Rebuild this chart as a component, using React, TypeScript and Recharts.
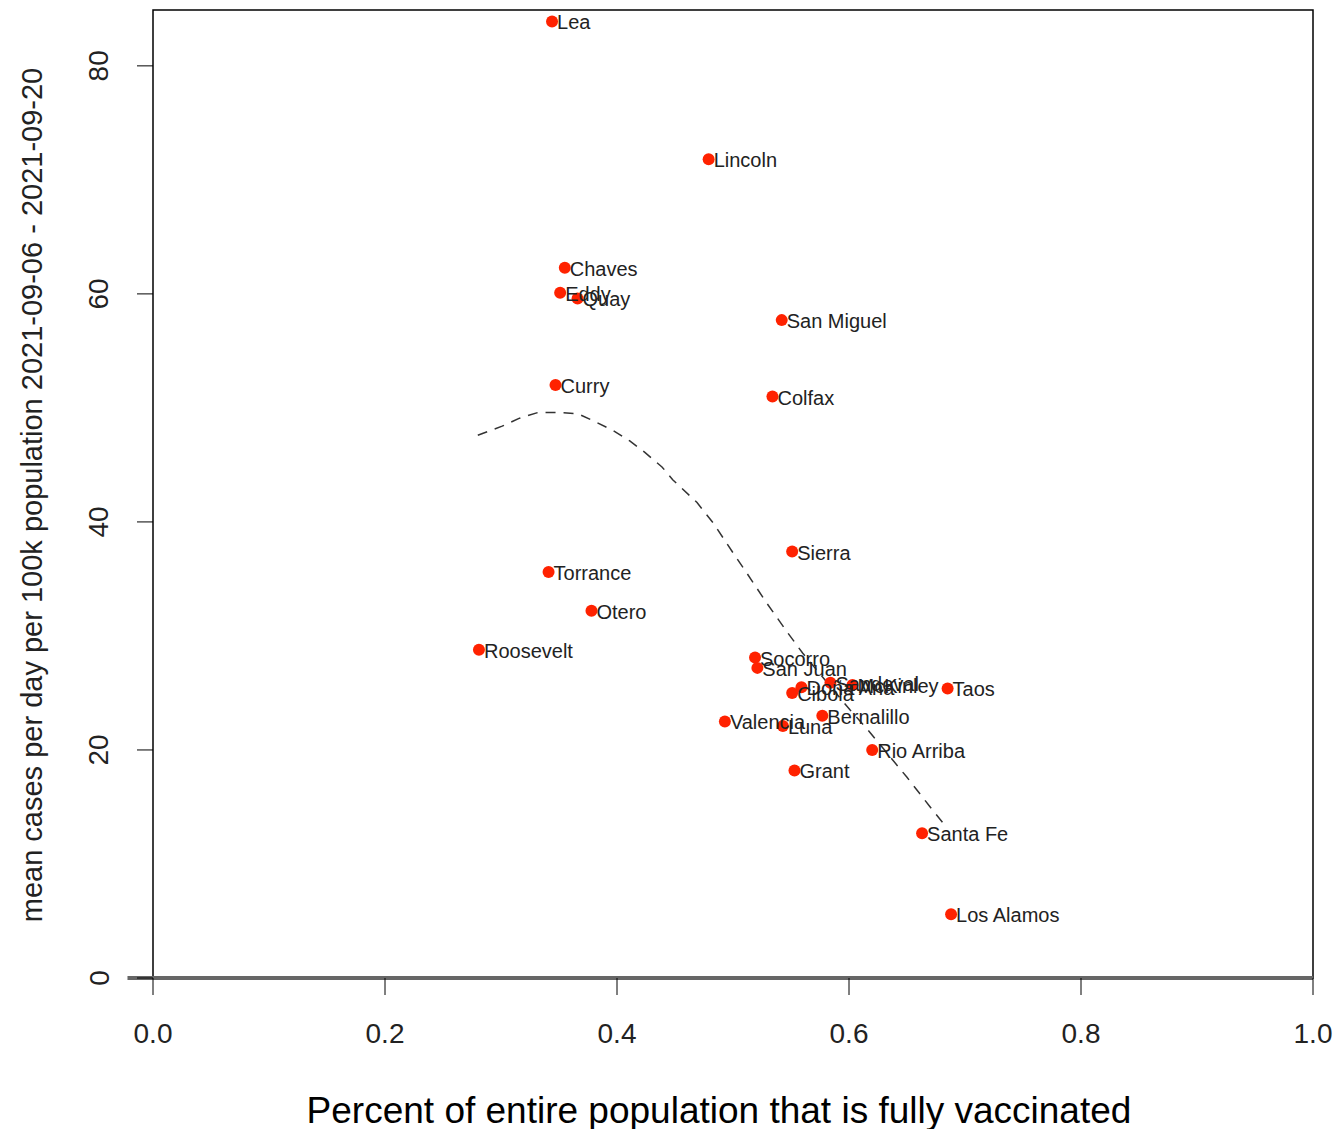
import React from "react";
import {
  Label,
  ReferenceArea,
  ReferenceLine,
  Scatter,
  ScatterChart,
  XAxis,
  YAxis,
} from "recharts";

const counties = [
  "Lea", "Lincoln", "Chaves", "Eddy", "Quay", "San Miguel", "Curry", "Colfax",
  "Sierra", "Torrance", "Otero", "Roosevelt", "Socorro", "San Juan", "Doña Ana",
  "Sandoval", "McKinley", "Cibola", "Taos", "Bernalillo", "Valencia", "Luna",
  "Rio Arriba", "Grant", "Santa Fe", "Los Alamos",
];
const vaccinated = [
  0.344, 0.479, 0.355, 0.351, 0.366, 0.542, 0.347, 0.534,
  0.551, 0.341, 0.378, 0.281, 0.519, 0.521, 0.559,
  0.584, 0.603, 0.551, 0.685, 0.577, 0.493, 0.543,
  0.620, 0.553, 0.663, 0.688,
];
const cases = [
  83.9, 71.8, 62.3, 60.1, 59.6, 57.7, 52.0, 51.0,
  37.4, 35.6, 32.2, 28.8, 28.1, 27.2, 25.5,
  25.9, 25.7, 25.0, 25.4, 23.0, 22.5, 22.1,
  20.0, 18.2, 12.7, 5.6,
];

// smoothed trend
const trendX = [
  0.280, 0.301, 0.316, 0.332, 0.349, 0.366, 0.381, 0.397, 0.411, 0.424,
  0.439, 0.448, 0.469, 0.483, 0.500, 0.512, 0.529, 0.547, 0.560, 0.601,
  0.616, 0.633, 0.650, 0.670, 0.681,
];
const trendY = [
  47.6, 48.4, 49.1, 49.6, 49.6, 49.5, 48.8, 48.0, 47.1, 46.1,
  44.8, 43.7, 41.7, 39.9, 37.3, 35.5, 32.9, 30.3, 28.5, 23.5,
  21.8, 19.7, 17.6, 15.0, 13.6,
];

const xTicks = [0, 0.2, 0.4, 0.6, 0.8, 1.0];
const yTicks = [0, 20, 40, 60, 80];
const Y_MAX = 84.9;

const points = counties.map((name, i) => ({ name, x: vaccinated[i], y: cases[i] }));
const trend = trendX.map((x, i) => ({ x, y: trendY[i] }));

const FONT = '"Liberation Sans", Arial, Helvetica, sans-serif';
const TEXT = "#222";

function XTick(props: any) {
  const { x, y, payload } = props;
  return (
    <text x={x} y={y + 36} textAnchor="middle" dominantBaseline="central"
      fontSize={28} fill={TEXT} fontFamily={FONT}>
      {Number(payload.value).toFixed(1)}
    </text>
  );
}

function YTick(props: any) {
  const { x, y, payload } = props;
  const lx = x - 36;
  return (
    <text x={lx} y={y} transform={`rotate(-90, ${lx}, ${y})`} textAnchor="middle"
      dominantBaseline="central" fontSize={28} fill={TEXT} fontFamily={FONT}>
      {payload.value}
    </text>
  );
}

function Dot(props: any) {
  const { cx, cy } = props;
  return <circle cx={cx} cy={cy} r={6} fill="#ff2200" />;
}

function Name(props: any) {
  const { cx, cy, payload } = props;
  return (
    <text x={cx + 5} y={cy + 1} dominantBaseline="central" fontSize={20}
      fill={TEXT} fontFamily={FONT}>
      {payload.name}
    </text>
  );
}

export default function App() {
  return (
    <div style={{ position: "absolute", left: 0, top: 0, background: "#fff" }}>
      <ScatterChart
        width={1338}
        height={1129}
        margin={{ top: 10, right: 25, left: 53, bottom: 51 }}
      >
        <XAxis
          type="number"
          dataKey="x"
          domain={[0, 1]}
          ticks={xTicks}
          tick={<XTick />}
          tickSize={17}
          tickLine={{ stroke: "#000" }}
          axisLine={false}
          height={100}
          allowDataOverflow
        >
          <Label
            content={() => (
              <text x={719} y={1110} textAnchor="middle" dominantBaseline="central"
                fontSize={37} fill="#000" fontFamily={FONT}>
                Percent of entire population that is fully vaccinated
              </text>
            )}
          />
        </XAxis>
        <YAxis
          type="number"
          dataKey="y"
          domain={[0, Y_MAX]}
          ticks={yTicks}
          tick={<YTick />}
          tickSize={16}
          tickLine={{ stroke: "#000" }}
          axisLine={false}
          width={100}
          allowDataOverflow
        >
          <Label
            content={() => (
              <text x={32} y={495} transform="rotate(-90, 32, 495)" textAnchor="middle"
                dominantBaseline="central" fontSize={29} fill={TEXT} fontFamily={FONT}>
                mean cases per day per 100k population 2021-09-06 - 2021-09-20
              </text>
            )}
          />
        </YAxis>
        <ReferenceArea x1={0} x2={1} y1={0} y2={Y_MAX} fill="none" stroke="#000"
          strokeWidth={1.5} ifOverflow="visible" />
        <ReferenceLine
          segment={[{ x: -0.022, y: 0 }, { x: 1, y: 0 }]}
          stroke="#666"
          strokeWidth={4}
          ifOverflow="visible"
        />
        <Scatter
          data={trend}
          line={{ stroke: "#333", strokeWidth: 1.5, strokeDasharray: "10 8" }}
          lineType="joint"
          shape={() => <g />}
          legendType="none"
          isAnimationActive={false}
        />
        <Scatter data={points} shape={<Dot />} isAnimationActive={false} />
        <Scatter data={points} shape={<Name />} isAnimationActive={false} />
      </ScatterChart>
    </div>
  );
}
